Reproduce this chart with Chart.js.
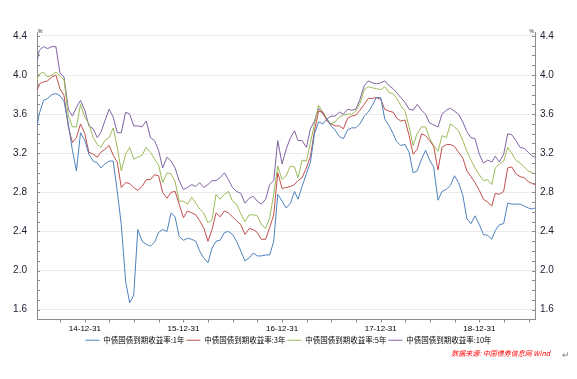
<!DOCTYPE html>
<html>
<head>
<meta charset="utf-8">
<script src="https://cdn.jsdelivr.net/npm/chart.js@4.4.0/dist/chart.umd.min.js"></script>
<style>
  html, body { margin: 0; padding: 0; background: #fff; }
  #wrap { width: 577px; height: 379px; }
</style>
</head>
<body>
<div id="wrap"><canvas id="chart" width="577" height="379"></canvas></div>
<script>
// Dates of the sampled points (roughly twice a month)
const dates = [
  "2014-07-08",
  "2014-07-16", "2014-08-01", "2014-08-16", "2014-09-01", "2014-09-16", "2014-10-01",
  "2014-10-16", "2014-11-01", "2014-11-16", "2014-12-01", "2014-12-16",
  "2015-01-01", "2015-01-16", "2015-02-01", "2015-02-16", "2015-03-01", "2015-03-16",
  "2015-04-01", "2015-04-16", "2015-05-01", "2015-05-16", "2015-06-01", "2015-06-16",
  "2015-07-01", "2015-07-16", "2015-08-01", "2015-08-16", "2015-09-01", "2015-09-16",
  "2015-10-01", "2015-10-16", "2015-11-01", "2015-11-16", "2015-12-01", "2015-12-16",
  "2016-01-01", "2016-01-16", "2016-02-01", "2016-02-16", "2016-03-01", "2016-03-16",
  "2016-04-01", "2016-04-16", "2016-05-01", "2016-05-16", "2016-06-01", "2016-06-16",
  "2016-07-01", "2016-07-16", "2016-08-01", "2016-08-16", "2016-09-01", "2016-09-16",
  "2016-10-01", "2016-10-16", "2016-11-01", "2016-11-16", "2016-12-01", "2016-12-16",
  "2017-01-01", "2017-01-16", "2017-02-01", "2017-02-16", "2017-03-01", "2017-03-16",
  "2017-04-01", "2017-04-16", "2017-05-01", "2017-05-16", "2017-06-01", "2017-06-16",
  "2017-07-01", "2017-07-16", "2017-08-01", "2017-08-16", "2017-09-01", "2017-09-16",
  "2017-10-01", "2017-10-16", "2017-11-01", "2017-11-16", "2017-12-01", "2017-12-16",
  "2018-01-01", "2018-01-16", "2018-02-01", "2018-02-16", "2018-03-01", "2018-03-16",
  "2018-04-01", "2018-04-16", "2018-05-01", "2018-05-16", "2018-06-01", "2018-06-16",
  "2018-07-01", "2018-07-16", "2018-08-01", "2018-08-16", "2018-09-01", "2018-09-16",
  "2018-10-01", "2018-10-16", "2018-11-01", "2018-11-16", "2018-12-01", "2018-12-16",
  "2019-01-01", "2019-01-16", "2019-02-01", "2019-02-16", "2019-03-01", "2019-03-16",
  "2019-04-01", "2019-04-16", "2019-05-01", "2019-05-16", "2019-06-01", "2019-06-16",
  "2019-07-01", "2019-07-16",
  "2019-07-26"
];

// Yields in %
const y1 = [
  3.47,
  3.60, 3.74, 3.76, 3.80, 3.81, 3.79, 3.73, 3.50, 3.23, 3.02, 3.41,
  3.33, 3.19, 3.12, 3.10, 3.05, 3.09, 3.12, 3.12, 2.81, 2.47, 1.89, 1.67,
  1.75, 2.42, 2.30, 2.27, 2.25, 2.29, 2.39, 2.42, 2.40, 2.59, 2.55, 2.35,
  2.31, 2.33, 2.32, 2.30, 2.20, 2.13, 2.08, 2.23, 2.30, 2.31, 2.39, 2.40,
  2.37, 2.30, 2.20, 2.10, 2.13, 2.18, 2.15, 2.15, 2.16, 2.16, 2.30, 2.78,
  2.71, 2.64, 2.69, 2.81, 2.73, 2.86, 2.99, 3.11, 3.40, 3.52, 3.50, 3.55,
  3.48, 3.44, 3.37, 3.35, 3.44, 3.46, 3.46, 3.50, 3.58, 3.62, 3.69, 3.77,
  3.77, 3.55, 3.48, 3.40, 3.32, 3.28, 3.29, 3.21, 3.00, 3.02, 3.14, 3.23,
  3.13, 3.06, 2.72, 2.81, 2.83, 2.87, 2.97, 2.90, 2.77, 2.53, 2.48, 2.56,
  2.47, 2.37, 2.36, 2.32, 2.41, 2.47, 2.48, 2.69, 2.68, 2.68, 2.68, 2.66,
  2.64, 2.63,
  2.64
];
const y3 = [
  3.84,
  3.91, 3.93, 3.94, 3.98, 4.00, 3.86, 3.79, 3.47, 3.31, 3.36, 3.50,
  3.40, 3.21, 3.19, 3.16, 3.21, 3.24, 3.28, 3.18, 3.11, 2.85, 2.90, 2.89,
  2.85, 2.82, 2.86, 2.93, 2.93, 2.98, 2.97, 2.80, 2.74, 2.80, 2.81, 2.68,
  2.54, 2.61, 2.59, 2.57, 2.51, 2.44, 2.30, 2.42, 2.59, 2.55, 2.61, 2.59,
  2.55, 2.51, 2.47, 2.37, 2.43, 2.42, 2.39, 2.32, 2.32, 2.44, 2.57, 3.00,
  2.84, 2.85, 2.86, 2.88, 2.92, 2.95, 3.05, 3.17, 3.43, 3.63, 3.62, 3.53,
  3.50, 3.48, 3.48, 3.45, 3.56, 3.58, 3.59, 3.64, 3.70, 3.76, 3.76, 3.77,
  3.75, 3.65, 3.63, 3.62, 3.56, 3.53, 3.54, 3.38, 3.19, 3.24, 3.40, 3.38,
  3.33, 3.27, 3.03, 3.26, 3.29, 3.29, 3.27, 3.21, 3.15, 3.02, 2.96, 2.90,
  2.82, 2.73, 2.70, 2.66, 2.79, 2.78, 2.81, 3.05, 3.06, 2.99, 2.96, 2.95,
  2.91, 2.89,
  2.88
];
const y5 = [
  3.95,
  4.01, 4.03, 3.98, 4.00, 4.03, 3.99, 3.95, 3.58, 3.47, 3.47, 3.70,
  3.57, 3.50, 3.36, 3.29, 3.26, 3.33, 3.36, 3.46, 3.26, 3.02, 3.19, 3.26,
  3.14, 3.16, 3.18, 3.26, 3.21, 3.14, 3.08, 2.90, 3.00, 2.99, 2.91, 2.71,
  2.71, 2.68, 2.75, 2.69, 2.63, 2.59, 2.49, 2.52, 2.78, 2.73, 2.78, 2.81,
  2.71, 2.68, 2.58, 2.50, 2.57, 2.57, 2.56, 2.47, 2.43, 2.54, 2.78, 3.07,
  2.93, 2.97, 3.07, 3.06, 2.95, 3.13, 3.12, 3.31, 3.50, 3.69, 3.62, 3.55,
  3.50, 3.52, 3.57, 3.59, 3.60, 3.60, 3.63, 3.71, 3.85, 3.88, 3.87, 3.86,
  3.85, 3.88, 3.82, 3.81, 3.76, 3.69, 3.63, 3.47, 3.28, 3.40, 3.47, 3.47,
  3.35, 3.28, 3.22, 3.38, 3.36, 3.50, 3.47, 3.43, 3.33, 3.22, 3.13, 3.05,
  2.98, 2.92, 2.93, 2.88, 3.05, 3.09, 3.12, 3.26, 3.20, 3.13, 3.10, 3.06,
  3.02, 3.00,
  2.99
];
const y10 = [
  4.13,
  4.25, 4.29, 4.27, 4.29, 4.29, 4.02, 3.98, 3.65, 3.58, 3.67, 3.74,
  3.64, 3.48, 3.45, 3.36, 3.41, 3.53, 3.65, 3.57, 3.41, 3.41, 3.62, 3.60,
  3.48, 3.48, 3.47, 3.53, 3.36, 3.33, 3.23, 3.05, 3.16, 3.12, 3.05, 2.92,
  2.83, 2.85, 2.88, 2.86, 2.90, 2.85, 2.88, 2.92, 2.92, 2.95, 3.00, 2.93,
  2.85, 2.81, 2.79, 2.69, 2.74, 2.76, 2.71, 2.68, 2.73, 2.88, 2.92, 3.33,
  3.09, 3.24, 3.36, 3.43, 3.33, 3.33, 3.26, 3.45, 3.53, 3.66, 3.60, 3.55,
  3.58, 3.58, 3.62, 3.60, 3.65, 3.64, 3.65, 3.75, 3.89, 3.94, 3.92, 3.91,
  3.92, 3.94, 3.89, 3.86, 3.82, 3.77, 3.72, 3.65, 3.64, 3.70, 3.64, 3.60,
  3.51, 3.49, 3.47, 3.60, 3.64, 3.66, 3.63, 3.60, 3.52, 3.42, 3.36, 3.35,
  3.19, 3.10, 3.13, 3.11, 3.17, 3.11, 3.19, 3.40, 3.39, 3.33, 3.26, 3.25,
  3.21, 3.17,
  3.16
];

const seriesNames = [
  "中债国债到期收益率:1年",
  "中债国债到期收益率:3年",
  "中债国债到期收益率:5年",
  "中债国债到期收益率:10年"
];
const seriesColors = ["#4f81bd", "#c0504d", "#9bbb59", "#8064a2"];
const yTicks = [1.6, 2.0, 2.4, 2.8, 3.2, 3.6, 4.0, 4.4];
const sourceText = "数据来源: 中国债券信息网 Wind";

const CJK = '"Noto Sans CJK SC", sans-serif';
const LATIN = '"Liberation Sans", Arial, sans-serif';

// date string -> fractional year
const toYear = (s) => {
  const [y, m, d] = s.split("-").map(Number);
  const start = Date.UTC(y, 0, 1);
  const len = Date.UTC(y + 1, 0, 1) - start;
  return y + (Date.UTC(y, m - 1, d) - start) / len;
};

const xMin = toYear(dates[0]);
const xMax = toYear(dates[dates.length - 1]);

// quarter-end tick positions
const quarterTicks = [];
for (let q = Math.ceil(xMin * 4); q <= Math.floor(xMax * 4); q++) {
  quarterTicks.push({ value: q / 4 });
}

const makeData = (vals) => dates.map((d, i) => ({ x: toYear(d), y: vals[i] }));

const datasets = [y1, y3, y5, y10].map((vals, i) => ({
  label: seriesNames[i],
  data: makeData(vals),
  borderColor: seriesColors[i],
  backgroundColor: seriesColors[i],
  borderWidth: 1,
  pointRadius: 0,
  tension: 0,
  fill: false,
  yAxisID: "y",
}));

// little tick marks inside the value axes, quarter marks under the date axis, source line
const extras = {
  id: "extras",
  afterDraw(chart) {
    const { ctx, chartArea, scales } = chart;
    ctx.save();
    ctx.strokeStyle = "#8c8c8c";
    ctx.lineWidth = 1;
    ctx.beginPath();
    for (let i = 0; i <= 28; i++) {
      const py = Math.round(scales.y.getPixelForValue(1.6 + i * 0.1)) + 0.5;
      ctx.moveTo(chartArea.left, py);
      ctx.lineTo(chartArea.left + 3, py);
      ctx.moveTo(chartArea.right - 3, py);
      ctx.lineTo(chartArea.right, py);
    }
    scales.x.ticks.forEach((t) => {
      const px = Math.round(scales.x.getPixelForValue(t.value)) + 0.5;
      ctx.moveTo(px, chartArea.bottom);
      ctx.lineTo(px, chartArea.bottom + 3);
    });
    ctx.stroke();

    // unit marks at the top of both axes
    ctx.fillStyle = "#222";
    ctx.font = "5px " + LATIN;
    ctx.textBaseline = "bottom";
    ctx.textAlign = "left";
    ctx.fillText("%", chartArea.left + 1, chartArea.top + 2);
    ctx.textAlign = "right";
    ctx.fillText("%", chartArea.right - 1, chartArea.top + 2);

    // data source
    ctx.fillStyle = "#ff0000";
    ctx.font = "italic 7px " + CJK;
    ctx.textAlign = "right";
    ctx.textBaseline = "middle";
    ctx.fillText(sourceText, 550, 353);
    ctx.fillStyle = "#808080";
    ctx.font = "9px " + LATIN;
    ctx.textAlign = "left";
    ctx.fillText("\u21b5", 562, 356);
    ctx.restore();
  },
};

const valueAxis = (position, width, pad) => ({
  type: "linear",
  position: position,
  min: 1.5,
  max: 4.44,
  afterBuildTicks: (scale) => {
    scale.ticks = yTicks.map((v) => ({ value: v }));
  },
  afterFit: (scale) => {
    scale.width = width;
  },
  grid: {
    display: position === "left",
    color: "#ebebeb",
    drawTicks: false,
  },
  border: { display: true, color: "#8c8c8c" },
  ticks: {
    padding: pad,
    color: "#1c1c30",
    font: { family: LATIN, size: 10 },
    callback: (v) => v.toFixed(1),
  },
});

new Chart(document.getElementById("chart").getContext("2d"), {
  type: "line",
  data: { datasets: datasets },
  options: {
    responsive: false,
    animation: false,
    layout: { padding: { top: 32, bottom: 25, left: 0, right: 0 } },
    plugins: {
      tooltip: { enabled: false },
      legend: {
        position: "bottom",
        align: "center",
        labels: {
          usePointStyle: true,
          pointStyle: "line",
          pointStyleWidth: 14,
          boxHeight: 8,
          padding: 2,
          color: "#000",
          font: { family: CJK, size: 7.5 },
        },
      },
    },
    scales: {
      x: {
        type: "linear",
        min: xMin,
        max: xMax,
        afterBuildTicks: (scale) => {
          scale.ticks = quarterTicks.slice();
        },
        afterFit: (scale) => {
          scale.height = 15;
        },
        grid: { display: false, drawTicks: false },
        border: { display: true, color: "#8c8c8c" },
        ticks: {
          autoSkip: false,
          maxRotation: 0,
          padding: 4,
          color: "#000",
          font: { family: LATIN, size: 8 },
          callback: (v) => {
            if (Math.abs(v - Math.round(v)) > 1e-6) return "";
            return String(Math.round(v) - 1).slice(2) + "-12-31";
          },
        },
      },
      y: valueAxis("left", 37, 10),
      y2: valueAxis("right", 42, 5),
    },
  },
  plugins: [extras],
});
</script>
</body>
</html>
